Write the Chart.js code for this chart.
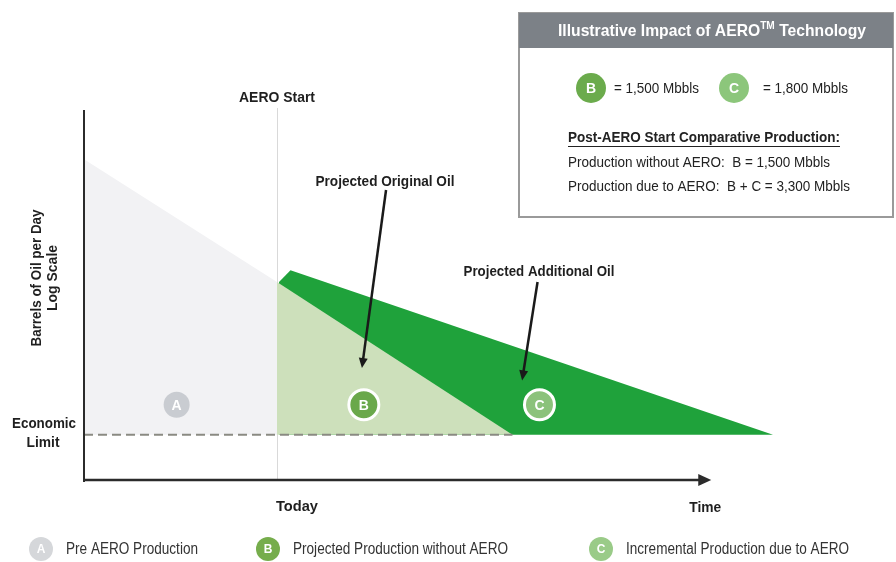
<!DOCTYPE html>
<html>
<head>
<meta charset="utf-8">
<script src="https://cdn.jsdelivr.net/npm/chart.js@4.4.1/dist/chart.umd.min.js"></script>
<style>
  html, body { margin: 0; padding: 0; background: #fff; }
  #wrap { width: 896px; height: 562px; position: relative; }
</style>
</head>
<body>
<div id="wrap"><canvas id="chart" width="896" height="562"></canvas></div>
<script>
// time in arbitrary units, production in barrels of oil per day (log scale)
const todayX = 10;
const economicLimit = 24;

const preAeroX = [0, 10];
const preAeroY = [4000, 410];

const withoutAeroX = [10, 22.2];
const withoutAeroY = [410, 24];

const withAeroX = [10.1, 10.7, 35.7];
const withAeroY = [410, 510, 24];

const markerLabels = ["A", "B", "C"];
const markerX = [4.8, 14.5, 23.6];
const markerY = [42, 42, 42];

const legendLabels = ["Pre AERO Production", "Projected Production without AERO", "Incremental Production due to AERO"];

const volumeLabels = ["B", "C"];
const volumeMbbls = ["1,500", "1,800"];

const FONT = '"Liberation Sans", Arial, sans-serif';

function toPoints(xs, ys) {
  return xs.map((x, i) => ({ x: x, y: ys[i] }));
}

// draw text squeezed to the width it has in the reference (narrow font look)
function txt(ctx, s, x, y, size, bold, align, width, color) {
  ctx.font = (bold ? "bold " : "") + size + "px " + FONT;
  ctx.textAlign = align;
  ctx.textBaseline = "middle";
  ctx.fillStyle = color || "#1f1f1f";
  if (width) ctx.fillText(s, x, y, width);
  else ctx.fillText(s, x, y);
}

function circle(ctx, x, y, r, fill, border, letter, fontSize) {
  ctx.beginPath();
  ctx.arc(x, y, r, 0, Math.PI * 2);
  ctx.fillStyle = fill;
  ctx.fill();
  if (border) {
    ctx.lineWidth = 3;
    ctx.strokeStyle = border;
    ctx.stroke();
  }
  txt(ctx, letter, x, y + 1, fontSize, true, "center", null, "#fff");
}

function arrow(ctx, x1, y1, x2, y2) {
  const ang = Math.atan2(y2 - y1, x2 - x1);
  const c = Math.cos(ang), s = Math.sin(ang);
  ctx.strokeStyle = "#1a1a1a";
  ctx.fillStyle = "#1a1a1a";
  ctx.lineWidth = 2.5;
  ctx.beginPath();
  ctx.moveTo(x1, y1);
  ctx.lineTo(x2 - 6 * c, y2 - 6 * s);
  ctx.stroke();
  ctx.beginPath();
  ctx.moveTo(x2, y2);
  ctx.lineTo(x2 - 10 * c + 4.5 * s, y2 - 10 * s - 4.5 * c);
  ctx.lineTo(x2 - 10 * c - 4.5 * s, y2 - 10 * s + 4.5 * c);
  ctx.closePath();
  ctx.fill();
}

const backgroundLines = {
  id: "backgroundLines",
  beforeDatasetsDraw(chart) {
    const ctx = chart.ctx;
    const area = chart.chartArea;
    const tx = Math.round(chart.scales.x.getPixelForValue(todayX)) + 0.5;
    ctx.save();
    ctx.strokeStyle = "#d9d9d9";
    ctx.lineWidth = 1;
    ctx.beginPath();
    ctx.moveTo(tx, area.top - 2);
    ctx.lineTo(tx, area.bottom - 2);
    ctx.stroke();
    ctx.restore();
  }
};

const decorations = {
  id: "decorations",
  afterDraw(chart) {
    const ctx = chart.ctx;
    const xs = chart.scales.x;
    const ys = chart.scales.y;
    const area = chart.chartArea;
    ctx.save();

    // axes
    ctx.strokeStyle = "#2b2b2b";
    ctx.lineWidth = 2;
    ctx.beginPath();
    ctx.moveTo(area.left, area.top);
    ctx.lineTo(area.left, area.bottom);
    ctx.stroke();
    const axY = area.bottom - 2;
    const tipX = xs.getPixelForValue(32.5);
    ctx.lineWidth = 2.5;
    ctx.beginPath();
    ctx.moveTo(area.left, axY);
    ctx.lineTo(tipX - 8, axY);
    ctx.stroke();
    ctx.fillStyle = "#2b2b2b";
    ctx.beginPath();
    ctx.moveTo(tipX, axY);
    ctx.lineTo(tipX - 13, axY - 6);
    ctx.lineTo(tipX - 13, axY + 6);
    ctx.closePath();
    ctx.fill();

    // marker letters
    chart.getDatasetMeta(0).data.forEach((pt, i) => {
      txt(ctx, markerLabels[i], pt.x, pt.y + 1, 14, true, "center", null, "#fff");
    });

    // axis texts
    const todayPx = xs.getPixelForValue(todayX);
    txt(ctx, "AERO Start", todayPx, 98, 15, true, "center", 76);
    txt(ctx, "Today", todayPx + 20, 507, 15, true, "center", 42);
    txt(ctx, "Time", tipX - 6, 508, 15, true, "center", 32);
    const limPx = ys.getPixelForValue(economicLimit);
    txt(ctx, "Economic", 44, limPx - 11, 14, true, "center", 64);
    txt(ctx, "Limit", 43, limPx + 8, 14, true, "center", 33);

    ctx.save();
    ctx.translate(37, 278);
    ctx.rotate(-Math.PI / 2);
    txt(ctx, "Barrels of Oil per Day", 0, 0, 14, true, "center", 137);
    txt(ctx, "Log Scale", 0, 16, 14, true, "center", 67);
    ctx.restore();

    // callouts
    txt(ctx, "Projected Original Oil", 385, 182, 15, true, "center", 139);
    txt(ctx, "Projected Additional Oil", 539, 272, 15, true, "center", 151);
    arrow(ctx, xs.getPixelForValue(15.65), ys.getPixelForValue(2265), xs.getPixelForValue(14.4), ys.getPixelForValue(83));
    arrow(ctx, xs.getPixelForValue(23.5), ys.getPixelForValue(410), xs.getPixelForValue(22.7), ys.getPixelForValue(66));

    // info box
    ctx.fillStyle = "#fff";
    ctx.fillRect(519, 13, 374, 204);
    ctx.strokeStyle = "#9a9a9a";
    ctx.lineWidth = 2;
    ctx.strokeRect(519, 13, 374, 204);
    ctx.fillStyle = "#7c8187";
    ctx.fillRect(519, 13, 374, 35);

    const t1 = "Illustrative Impact of AERO";
    const t2 = " Technology";
    ctx.font = "bold 17px " + FONT;
    const w1 = ctx.measureText(t1).width;
    const w2 = ctx.measureText(t2).width;
    ctx.font = "bold 11px " + FONT;
    const wtm = ctx.measureText("TM").width;
    const k = Math.min(1, 308 / (w1 + wtm + w2));
    const hx = 558;
    txt(ctx, t1, hx, 31, 17, true, "left", w1 * k, "#fff");
    txt(ctx, "TM", hx + w1 * k, 26, 11, true, "left", wtm * k, "#fff");
    txt(ctx, t2, hx + (w1 + wtm) * k, 31, 17, true, "left", w2 * k, "#fff");

    circle(ctx, 591, 88, 15, "#6bab4c", null, volumeLabels[0], 14);
    circle(ctx, 734, 88, 15, "#8cc67b", null, volumeLabels[1], 14);
    txt(ctx, "= " + volumeMbbls[0] + " Mbbls", 614, 89, 15, false, "left", 85, "#222");
    txt(ctx, "= " + volumeMbbls[1] + " Mbbls", 763, 89, 15, false, "left", 85, "#222");

    const sub = "Post-AERO Start Comparative Production:";
    txt(ctx, sub, 568, 138, 15, true, "left", 272, "#222");
    ctx.strokeStyle = "#222";
    ctx.lineWidth = 1;
    ctx.beginPath();
    ctx.moveTo(568, 146.5);
    ctx.lineTo(840, 146.5);
    ctx.stroke();
    txt(ctx, "Production without AERO:  B = " + volumeMbbls[0] + " Mbbls", 568, 163, 15, false, "left", 262, "#222");
    txt(ctx, "Production due to AERO:  B + C = 3,300 Mbbls", 568, 187, 15, false, "left", 282, "#222");

    // bottom legend
    const legX = [41, 268, 601];
    const legW = [132, 215, 223];
    const legFill = ["#d5d7da", "#76ad4c", "#9acb88"];
    legendLabels.forEach((lab, i) => {
      circle(ctx, legX[i], 549, 12, legFill[i], null, markerLabels[i], 12);
      txt(ctx, lab, legX[i] + 25, 550, 16, false, "left", legW[i], "#333");
    });

    ctx.restore();
  }
};

new Chart(document.getElementById("chart"), {
  type: "line",
  data: {
    datasets: [
      {
        label: "markers",
        data: toPoints(markerX, markerY),
        showLine: false,
        pointRadius: [13, 15, 15],
        pointBackgroundColor: ["#c9ccd1", "#6aa84b", "#8bc27b"],
        pointBorderColor: ["#c9ccd1", "#ffffff", "#ffffff"],
        pointBorderWidth: [0, 3, 3],
      },
      {
        label: "Economic Limit",
        data: toPoints([0, withoutAeroX[1]], [economicLimit, economicLimit]),
        borderColor: "#8a8a82",
        borderWidth: 2,
        borderDash: [9, 5],
        pointRadius: 0,
        fill: false,
      },
      {
        label: "Pre AERO Production",
        data: toPoints(preAeroX, preAeroY),
        borderWidth: 0,
        borderColor: "rgba(0,0,0,0)",
        backgroundColor: "#f2f2f4",
        pointRadius: 0,
        fill: { value: economicLimit },
      },
      {
        label: "Projected Production without AERO",
        data: toPoints(withoutAeroX, withoutAeroY),
        borderWidth: 0,
        borderColor: "rgba(0,0,0,0)",
        backgroundColor: "#cde0bb",
        pointRadius: 0,
        fill: { value: economicLimit },
      },
      {
        label: "Incremental Production due to AERO",
        data: toPoints(withAeroX, withAeroY),
        borderWidth: 0,
        borderColor: "rgba(0,0,0,0)",
        backgroundColor: "#1fa23b",
        pointRadius: 0,
        fill: { value: economicLimit },
      },
    ],
  },
  options: {
    responsive: false,
    animation: false,
    layout: { padding: { left: 84, right: 40, top: 110, bottom: 80 } },
    scales: {
      x: { type: "linear", min: 0, max: 40, display: false },
      y: { type: "logarithmic", min: 10, max: 10000, display: false },
    },
    plugins: {
      legend: { display: false },
      tooltip: { enabled: false },
    },
  },
  plugins: [backgroundLines, decorations],
});
</script>
</body>
</html>
